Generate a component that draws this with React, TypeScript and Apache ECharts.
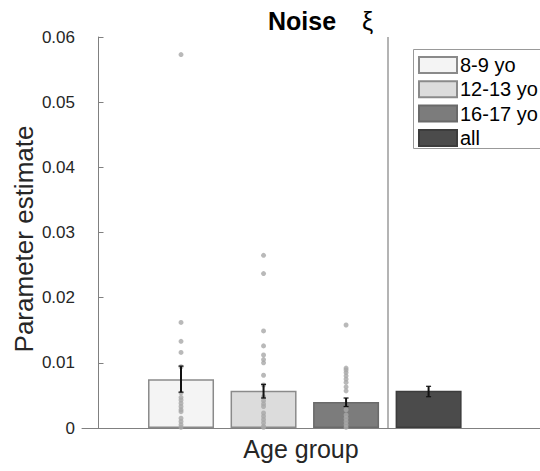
import React, { useEffect, useRef } from "react";
import * as echarts from "echarts";

const categories = ["8-9 yo", "12-13 yo", "16-17 yo", "all"];
const groupPositions = [1, 2, 3, 4];
const means = [0.0075, 0.0057, 0.004, 0.0057];
const errLow = [0.0055, 0.0046, 0.0033, 0.0048];
const errHigh = [0.0095, 0.0067, 0.0046, 0.0064];
const barColors = ["#f4f4f4", "#dcdcdc", "#7c7c7c", "#4b4b4b"];
const barBorders = ["#8a8a8a", "#8a8a8a", "#6a6a6a", "#3c3c3c"];

const dots8to9 = [
  0.0573, 0.0162, 0.0133, 0.0116, 0.0094, 0.0054, 0.0047, 0.0043, 0.0038,
  0.0033, 0.0028, 0.0025, 0.0015, 0.001, 0.0005, 0.0001,
];
const dots12to13 = [
  0.0265, 0.0237, 0.0149, 0.0126, 0.0112, 0.0105, 0.01, 0.0081, 0.0066,
  0.0048, 0.0042, 0.0037, 0.0033, 0.0023, 0.0018, 0.0013, 0.0008, 0.0003,
  0.0001,
];
const dots16to17 = [
  0.0158, 0.0092, 0.0089, 0.0085, 0.008, 0.0075, 0.007, 0.0063, 0.0057,
  0.0028, 0.002, 0.0015, 0.001, 0.0005, 0.0001,
];
const dividerX = 3.5;
const yTicks = [0, 0.01, 0.02, 0.03, 0.04, 0.05, 0.06];

const FONT = "'Liberation Sans', Arial, Helvetica, sans-serif";

export default function App() {
  const ref = useRef<HTMLDivElement>(null);
  useEffect(() => {
    if (!ref.current) return;
    const chart = echarts.init(ref.current, null, { renderer: "svg" });
    const dotGroups = [dots8to9, dots12to13, dots16to17];
    const dotData: number[][] = [];
    dotGroups.forEach((g, i) => g.forEach((v) => dotData.push([groupPositions[i], v])));

    const barSeries = categories.map((name, i) => ({
      name,
      type: "bar",
      barWidth: 66,
      barGap: "-100%",
      z: 2,
      itemStyle: { color: barColors[i], borderColor: barBorders[i], borderWidth: 1.5 },
      data: [[groupPositions[i], means[i]]],
      ...(i === 3
        ? {
            markLine: {
              silent: true,
              symbol: ["none", "none"],
              label: { show: false },
              lineStyle: { color: "#b4b4b4", width: 2, type: "solid" },
              data: [{ xAxis: dividerX }],
            },
          }
        : {}),
    }));

    chart.setOption({
      animation: false,
      textStyle: { fontFamily: FONT },
      grid: { left: 82, top: 37, bottom: 43, right: 0, containLabel: false },
      legend: {
        data: categories,
        orient: "vertical",
        left: 413,
        top: 49,
        icon: "rect",
        itemWidth: 38,
        itemHeight: 16,
        itemGap: 4.3,
        padding: [6, 10, 2, 5],
        borderWidth: 0,
        selectedMode: false,
        z: 10,
        textStyle: {
          fontSize: 20,
          color: "#000",
          fontFamily: FONT,
          padding: [0, 0, 0, -2],
        },
      },
      xAxis: {
        type: "value",
        min: -0.2,
        max: 5.35,
        axisLine: { show: true, lineStyle: { color: "#808080", width: 1 } },
        axisTick: { show: false },
        axisLabel: { show: false },
        splitLine: { show: false },
      },
      yAxis: {
        type: "value",
        min: 0,
        max: 0.06,
        interval: 0.01,
        axisLine: { show: true, lineStyle: { color: "#808080", width: 1 } },
        axisTick: { show: true, inside: true, length: 5, lineStyle: { color: "#808080" } },
        axisLabel: {
          color: "#262626",
          fontSize: 17,
          margin: 7,
          fontFamily: FONT,
          formatter: (v: number) => {
            const idx = yTicks.findIndex((t) => Math.abs(t - v) < 1e-9);
            const t = idx >= 0 ? yTicks[idx] : v;
            return t === 0 ? "0" : t.toFixed(2);
          },
        },
        splitLine: { show: false },
      },
      graphic: [
        {
          type: "rect",
          z: 5,
          shape: { x: 413.5, y: 49.5, width: 140, height: 99 },
          style: { fill: "#fff", stroke: "#999", lineWidth: 1 },
        },
        {
          type: "text",
          left: 268,
          top: 8,
          style: { text: "Noise", fontSize: 25, fontWeight: "bold", fill: "#000", fontFamily: FONT },
        },
        {
          type: "text",
          left: 362,
          top: 8,
          style: { text: "ξ", fontSize: 25, fill: "#000", fontFamily: FONT },
        },
        {
          type: "text",
          x: 301,
          y: 449,
          style: {
            text: "Age group",
            fontSize: 25,
            fill: "#262626",
            fontFamily: FONT,
            align: "center",
            verticalAlign: "middle",
          },
        },
        {
          type: "text",
          x: 24,
          y: 239,
          rotation: Math.PI / 2,
          style: {
            text: "Parameter estimate",
            fontSize: 26,
            fill: "#262626",
            fontFamily: FONT,
            align: "center",
            verticalAlign: "middle",
          },
        },
      ],
      series: [
        ...barSeries,
        {
          type: "scatter",
          name: "dots",
          z: 3,
          symbolSize: 5,
          itemStyle: { color: "#a8a8a8" },
          data: dotData,
        },
        {
          type: "custom",
          name: "err",
          z: 4,
          data: groupPositions.map((p, i) => [p, errLow[i], errHigh[i]]),
          renderItem: (params: any, api: any) => {
            const x = api.value(0);
            const lo = api.coord([x, api.value(1)]);
            const hi = api.coord([x, api.value(2)]);
            const cw = 2.5;
            const style = { stroke: "#111", lineWidth: 2 };
            return {
              type: "group",
              children: [
                { type: "line", shape: { x1: lo[0], y1: lo[1], x2: hi[0], y2: hi[1] }, style },
                { type: "line", shape: { x1: lo[0] - cw, y1: lo[1], x2: lo[0] + cw, y2: lo[1] }, style: { stroke: "#111", lineWidth: 1.2 } },
                { type: "line", shape: { x1: hi[0] - cw, y1: hi[1], x2: hi[0] + cw, y2: hi[1] }, style: { stroke: "#111", lineWidth: 1.2 } },
              ],
            };
          },
        },
      ],
    });
    return () => chart.dispose();
  }, []);
  return (
    <div
      ref={ref}
      style={{ position: "absolute", left: 0, top: 0, width: 540, height: 471, background: "#fff" }}
    />
  );
}
